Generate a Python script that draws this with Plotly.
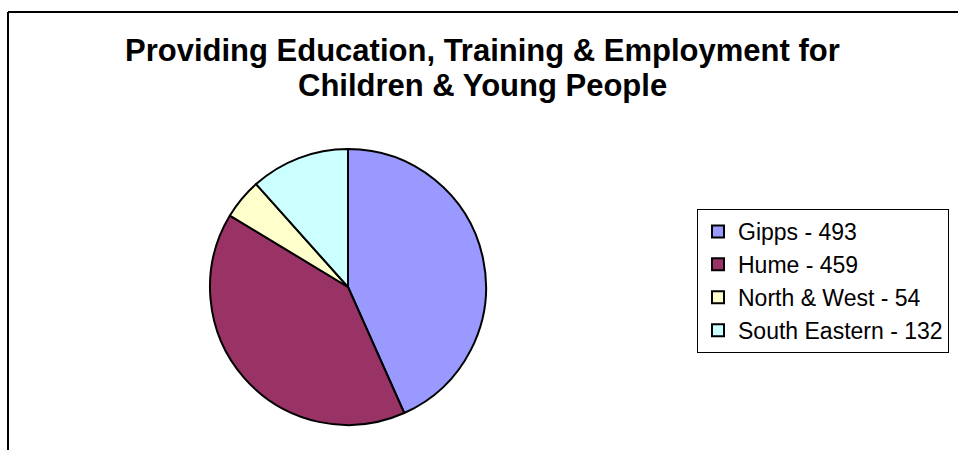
import plotly.graph_objects as go

# Regional counts
regions = ["Gipps", "Hume", "North & West", "South Eastern"]
counts = [493, 459, 54, 132]
slice_colors = ["#9999FF", "#993366", "#FFFFCC", "#CCFFFF"]

title_lines = [
    "Providing Education, Training & Employment for",
    "Children & Young People",
]

W, H = 958, 450
FONT = "Liberation Sans, Arial, sans-serif"
legend_labels = [f"{r} - {c}" for r, c in zip(regions, counts)]

fig = go.Figure(
    go.Pie(
        labels=legend_labels,
        values=counts,
        sort=False,
        direction="clockwise",
        rotation=0,
        textinfo="none",
        hoverinfo="label+percent",
        marker=dict(colors=slice_colors, line=dict(color="#000000", width=2)),
        domain=dict(x=[210 / W, 486 / W], y=[25 / H, 301 / H]),
    )
)

# Outer chart frame: left and top edges (the rest runs off the canvas)
frame = dict(color="#000000", width=2)
fig.add_shape(type="line", xref="paper", yref="paper",
              x0=8 / W, x1=8 / W, y0=0, y1=1 - 12 / H, line=frame)
fig.add_shape(type="line", xref="paper", yref="paper",
              x0=8 / W, x1=1, y0=1 - 12 / H, y1=1 - 12 / H, line=frame)

# Two-line bold title
title_y = [50, 85]
for line, ypx in zip(title_lines, title_y):
    fig.add_annotation(
        text=f"<b>{line}</b>", xref="paper", yref="paper",
        x=483 / W, y=1 - ypx / H, xanchor="center", yanchor="middle",
        showarrow=False,
        font=dict(size=31, family=FONT, color="#000000"),
    )

fig.update_layout(
    width=W,
    height=H,
    margin=dict(l=0, r=0, t=0, b=0),
    paper_bgcolor="#FFFFFF",
    plot_bgcolor="#FFFFFF",
    font=dict(family=FONT, color="#000000"),
    legend=dict(
        x=697 / W, xanchor="left",
        y=1 - 209 / H, yanchor="top",
        bordercolor="#000000", borderwidth=1,
        bgcolor="#FFFFFF",
        font=dict(size=23, family=FONT, color="#000000"),
        tracegroupgap=0,
    ),
    showlegend=True,
)

fig.write_html("out.html")
